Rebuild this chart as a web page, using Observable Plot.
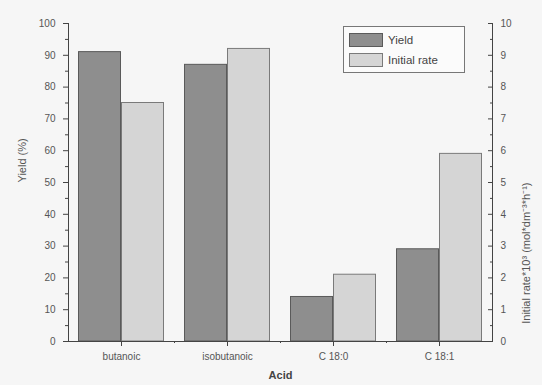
<!DOCTYPE html>
<html><head><meta charset="utf-8">
<script src="https://cdn.jsdelivr.net/npm/d3@7"></script>
<script src="https://cdn.jsdelivr.net/npm/@observablehq/plot@0.6"></script>
<style>
body{margin:0;background:#f6f6f6;}
#wrap{position:relative;width:542px;height:385px;font-family:"Liberation Sans",Arial,sans-serif;overflow:hidden;}
#legend{position:absolute;left:343px;top:26px;width:122px;height:47px;border:1px solid #777;box-sizing:border-box;background:#fbfbfb;}
.item{position:absolute;left:5px;height:15px;display:flex;align-items:center;font-size:11.5px;color:#444;}
.sw{width:34px;height:14px;box-sizing:border-box;margin-right:5px;}
</style></head>
<body><div id="wrap"></div>
<script>
const categories = ["butanoic", "isobutanoic", "C 18:0", "C 18:1"];
const yieldValues = [91, 87, 14, 29];          // %
const rateValues = [7.5, 9.2, 2.1, 5.9];       // initial rate *10^3
const seriesNames = ["Yield", "Initial rate"];
const seriesFill = ["#8e8e8e", "#d5d5d5"];
const seriesStroke = ["#5a5a5a", "#7a7a7a"];
const yTicks = d3.range(0, 101, 10);
const yMinor = d3.range(5, 100, 10);
const rateScale = 10; // right axis value = left value / 10

const data = categories.map((c, i) => ({acid: c, yield: yieldValues[i], rate: rateValues[i]}));

const textColor = "#555";
const plot = Plot.plot({
  width: 542, height: 385,
  marginLeft: 68, marginRight: 50, marginTop: 23, marginBottom: 44,
  style: {fontFamily: "Liberation Sans, Arial, sans-serif", fontSize: "10px", background: "transparent", color: textColor},
  x: {type: "band", domain: categories, padding: 0},
  y: {domain: [0, 100]},
  marks: [
    Plot.barY(data, {x: "acid", y: "yield", fill: seriesFill[0], stroke: seriesStroke[0], strokeWidth: 1, insetLeft: 10.5, insetRight: 53.5}),
    Plot.barY(data, {x: "acid", y: d => d.rate * rateScale, fill: seriesFill[1], stroke: seriesStroke[1], strokeWidth: 1, insetLeft: 53.5, insetRight: 10.5}),
    Plot.frame({anchor: "left", stroke: "#444"}),
    Plot.frame({anchor: "right", stroke: "#444"}),
    Plot.frame({anchor: "bottom", stroke: "#444"}),
    Plot.axisY({ticks: yTicks, tickSize: 5, tickPadding: 8, label: null, fill: textColor, stroke: "#444"}),
    Plot.axisY({ticks: yMinor, tickSize: 3, text: null, label: null, stroke: "#444"}),
    Plot.axisY({anchor: "right", ticks: yTicks, tickSize: -5, tickPadding: 13, tickFormat: d => d / rateScale, label: null, fill: textColor, stroke: "#444"}),
    Plot.axisY({anchor: "right", ticks: yMinor, tickSize: -3, text: null, label: null, stroke: "#444"}),
    Plot.axisX({tickSize: 5, tickPadding: 6, label: null, fill: textColor, stroke: "#444"}),
    Plot.axisX(categories.slice(0, -1), {tickSize: 2, text: null, label: null, dx: 53, stroke: "#444"}),
    Plot.text(["Yield (%)"], {frameAnchor: "left", dx: -46, rotate: -90, fontSize: 11, fill: textColor}),
    Plot.text(["Initial rate*10³ (mol*dm⁻³*h⁻¹)"], {frameAnchor: "right", dx: 34, rotate: -90, fontSize: 11, fill: textColor}),
    Plot.text(["Acid"], {frameAnchor: "bottom", dy: 37, fontSize: 11, fontWeight: "bold", fill: "#444"})
  ]
});
const wrap = document.getElementById("wrap");
wrap.appendChild(plot);
const legend = document.createElement("div");
legend.id = "legend";
seriesNames.forEach((name, i) => {
  const item = document.createElement("div");
  item.className = "item";
  item.style.top = (5 + i * 20) + "px";
  const sw = document.createElement("div");
  sw.className = "sw";
  sw.style.background = seriesFill[i];
  sw.style.border = "1px solid " + seriesStroke[i];
  item.appendChild(sw);
  item.appendChild(document.createTextNode(name));
  legend.appendChild(item);
});
wrap.appendChild(legend);
</script></body></html>
